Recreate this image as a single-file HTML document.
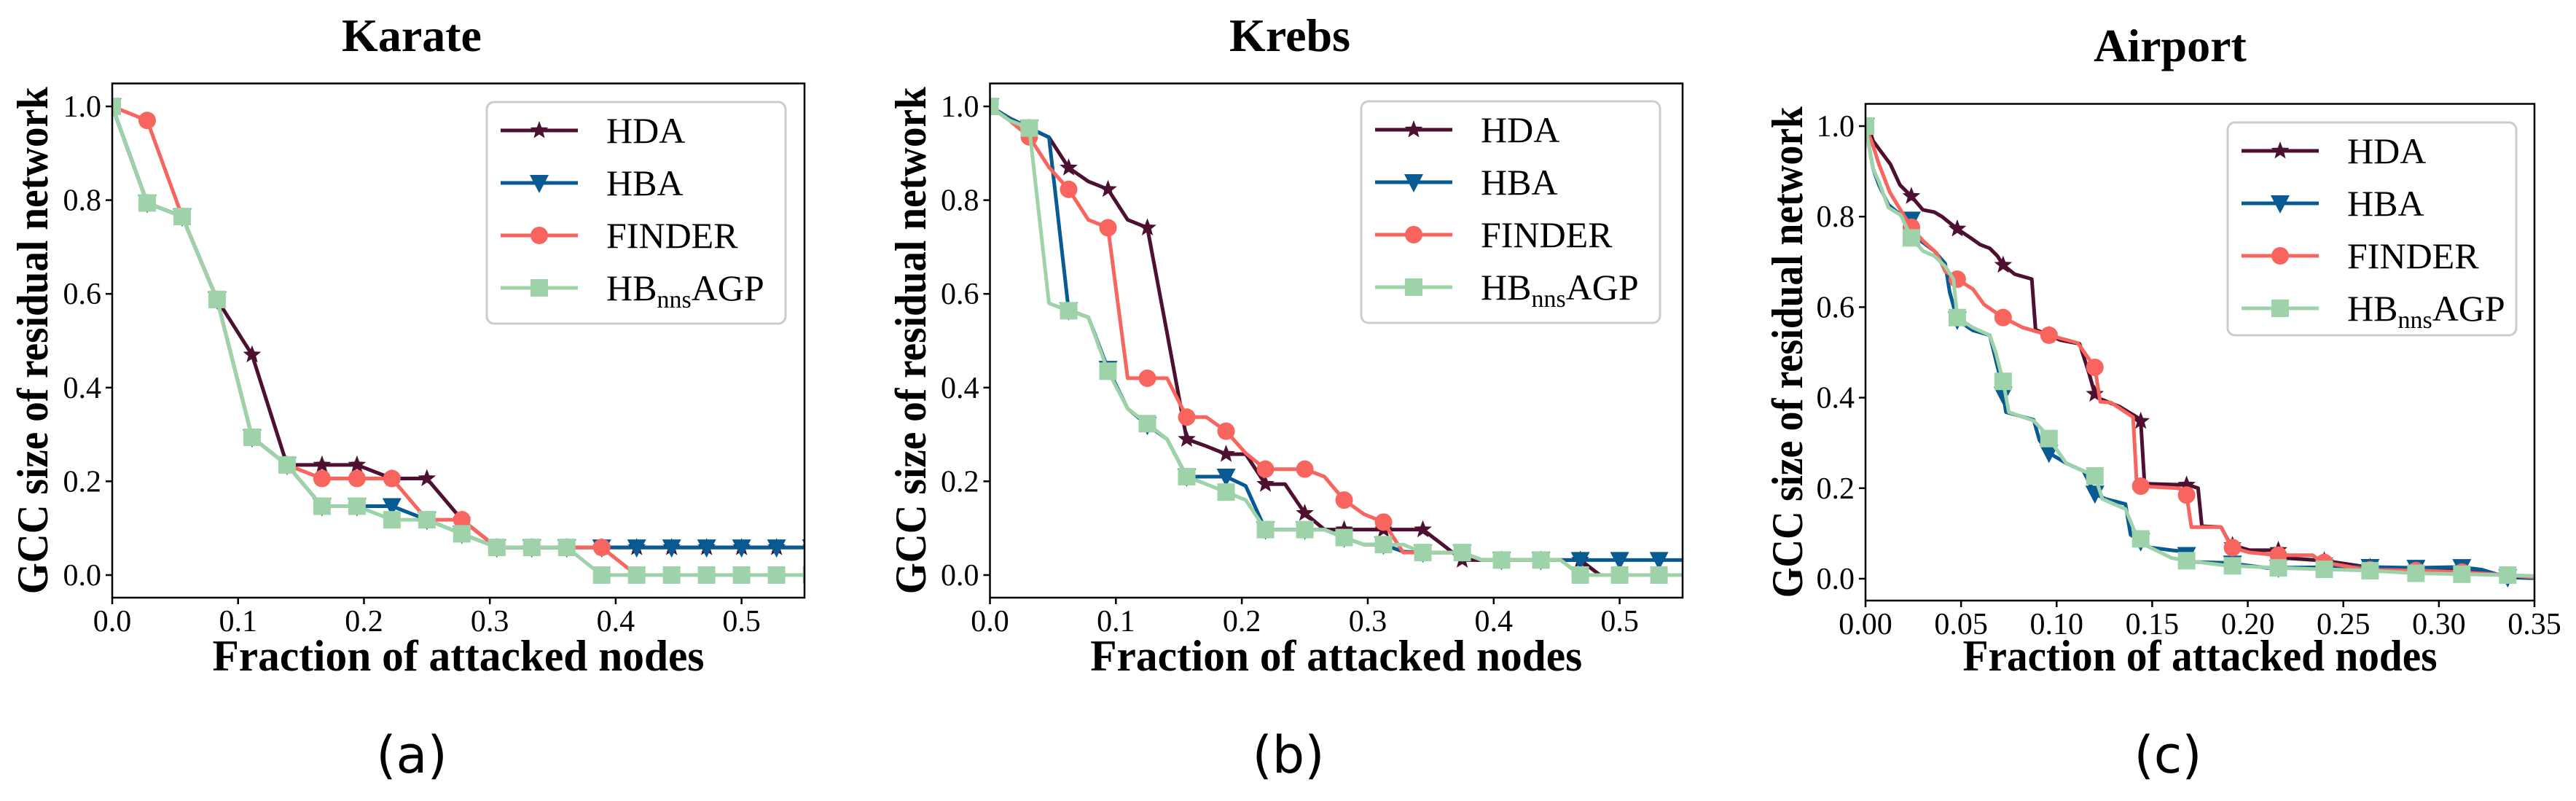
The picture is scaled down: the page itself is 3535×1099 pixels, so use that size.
<!DOCTYPE html>
<html><head><meta charset="utf-8"><style>
html,body{margin:0;padding:0;background:#fff;}
svg{display:block;}
</style></head><body>
<svg id="fig" width="3535" height="1099" viewBox="0 0 3535 1099" xmlns="http://www.w3.org/2000/svg"></svg>
<script>
// ---------- Data ----------
const seriesNames = ["HDA","HBA","FINDER","HBnnsAGP"];
const colors = ["#4d1030","#075a92","#f8645e","#9ed3aa"];
const yTicks = [0.0,0.2,0.4,0.6,0.8,1.0];
const yTickLabels = ["0.0","0.2","0.4","0.6","0.8","1.0"];

// Karate: step 1/36
const karateStep = 1/36;
const karateHDA = [1,0.794,0.765,0.588,0.47,0.235,0.235,0.235,0.206,0.206,0.118,0.059,0.059,0.059,0.059,0.059,0.059,0.059,0.059,0.059,0.059];
const karateHBA = [1,0.794,0.765,0.588,0.294,0.235,0.147,0.147,0.147,0.118,0.088,0.059,0.059,0.059,0.059,0.059,0.059,0.059,0.059,0.059,0.059];
const karateFINDER = [1,0.97,0.765,0.588,0.294,0.235,0.206,0.206,0.206,0.118,0.118,0.059,0.059,0.059,0.059,0,0,0,0,0,0];
const karateHBnns = [1,0.794,0.765,0.588,0.294,0.235,0.147,0.147,0.118,0.118,0.088,0.059,0.059,0.059,0,0,0,0,0,0,0];
const karateXTicks = [0,0.1,0.2,0.3,0.4,0.5];
const karateXTickLabels = ["0.0","0.1","0.2","0.3","0.4","0.5"];

// Krebs: step 1/64, markers every 2
const krebsStep = 1/64;
const krebsHDA = [1,0.975,0.954,0.934,0.869,0.84,0.823,0.758,0.741,0.517,0.29,0.275,0.258,0.258,0.194,0.194,0.132,0.097,0.097,0.097,0.097,0.097,0.097,0.065,0.032,0.032,0.032,0.032,0.032,0.032,0.032,0,0,0,0,0,0];
const krebsHBA = [1,0.975,0.954,0.934,0.565,0.55,0.44,0.355,0.32,0.29,0.21,0.21,0.21,0.19,0.097,0.097,0.097,0.097,0.08,0.065,0.065,0.05,0.048,0.048,0.048,0.032,0.032,0.032,0.032,0.032,0.032,0.032,0.032,0.032,0.032,0.032,0.032];
const krebsFINDER = [1,0.97,0.935,0.87,0.823,0.758,0.741,0.42,0.42,0.42,0.337,0.337,0.307,0.26,0.226,0.226,0.226,0.21,0.16,0.13,0.113,0.048,0.048,0.048,0.048,0.032,0.032,0.032,0.032,0.032,0,0,0,0,0,0,0];
const krebsHBnns = [1,0.97,0.954,0.58,0.564,0.55,0.435,0.355,0.323,0.29,0.21,0.194,0.177,0.16,0.097,0.097,0.097,0.097,0.08,0.065,0.065,0.065,0.048,0.048,0.048,0.032,0.032,0.032,0.032,0.032,0,0,0,0,0,0,0];
const krebsXTicks = [0,0.1,0.2,0.3,0.4,0.5];
const krebsXTickLabels = ["0.0","0.1","0.2","0.3","0.4","0.5"];

// Airport: explicit vertices
const airHDAx = [0,0.003,0.004,0.007,0.013,0.018,0.024,0.030,0.036,0.040,0.048,0.055,0.060,0.065,0.069,0.072,0.078,0.087,0.089,0.096,0.102,0.112,0.117,0.120,0.123,0.133,0.142,0.144,0.146,0.169,0.174,0.176,0.186,0.191,0.201,0.216,0.218,0.24,0.262,0.311,0.336,0.35];
const airHDAy = [1.0,0.98,0.967,0.95,0.916,0.87,0.845,0.815,0.81,0.80,0.773,0.753,0.738,0.73,0.713,0.693,0.673,0.662,0.55,0.538,0.527,0.519,0.453,0.408,0.397,0.38,0.357,0.348,0.21,0.207,0.2,0.116,0.114,0.075,0.063,0.063,0.046,0.04,0.026,0.018,0.007,0.003];
const airHBAx = [0,0.004,0.007,0.012,0.02,0.025,0.0287,0.036,0.0417,0.044,0.048,0.056,0.065,0.0706,0.0735,0.088,0.091,0.096,0.105,0.114,0.12,0.1257,0.136,0.1387,0.149,0.160,0.166,0.172,0.189,0.21,0.262,0.288,0.311,0.3225,0.3355,0.35];
const airHBAy = [1,0.905,0.87,0.826,0.798,0.792,0.747,0.724,0.696,0.634,0.572,0.549,0.538,0.442,0.368,0.351,0.306,0.278,0.255,0.238,0.188,0.176,0.165,0.097,0.069,0.063,0.06,0.037,0.035,0.024,0.026,0.024,0.026,0.02,0.003,0.001];
const airFINDERx = [0,0.004,0.007,0.0127,0.02,0.025,0.030,0.0373,0.0417,0.049,0.0562,0.062,0.072,0.0822,0.096,0.111,0.12,0.1228,0.1285,0.140,0.142,0.163,0.1676,0.1705,0.186,0.1917,0.201,0.2154,0.234,0.2386,0.262,0.288,0.311,0.3356,0.35];
const airFINDERy = [1,0.956,0.916,0.854,0.803,0.77,0.747,0.719,0.679,0.659,0.64,0.606,0.577,0.555,0.538,0.521,0.467,0.391,0.389,0.357,0.205,0.2,0.196,0.114,0.114,0.069,0.058,0.052,0.052,0.037,0.02,0.018,0.015,0.008,0.003];
const airHBnnsx = [0,0.004,0.007,0.012,0.0185,0.024,0.0301,0.036,0.0417,0.046,0.048,0.056,0.065,0.0683,0.072,0.075,0.088,0.0938,0.105,0.114,0.12,0.124,0.136,0.1416,0.149,0.160,0.1676,0.189,0.2154,0.2386,0.262,0.288,0.311,0.3355,0.35];
const airHBnnsy = [1,0.905,0.877,0.82,0.803,0.753,0.724,0.713,0.69,0.662,0.577,0.555,0.538,0.498,0.436,0.368,0.349,0.323,0.255,0.238,0.227,0.176,0.154,0.097,0.069,0.046,0.04,0.029,0.024,0.021,0.018,0.012,0.01,0.008,0.006];
const airMarkStep = 0.024;
const airXTicks = [0,0.05,0.1,0.15,0.2,0.25,0.3,0.35];
const airXTickLabels = ["0.00","0.05","0.10","0.15","0.20","0.25","0.30","0.35"];

// ---------- Drawing ----------
const NS = "http://www.w3.org/2000/svg";
const svg = document.getElementById("fig");
function mk(tag, attrs, parent){
  const e = document.createElementNS(NS, tag);
  for (const k in attrs) e.setAttribute(k, attrs[k]);
  (parent||svg).appendChild(e);
  return e;
}
function marker(g, type, cx, cy, color){
  let e;
  if (type===0){ // star
    const pts=[];
    for(let i=0;i<10;i++){const r=i%2?5.5:13;const a=-Math.PI/2+i*Math.PI/5;pts.push((cx+r*Math.cos(a)).toFixed(1)+","+(cy+r*Math.sin(a)).toFixed(1));}
    e = mk("polygon",{points:pts.join(" "),fill:color},g);
  } else if (type===1){
    e = mk("polygon",{points:(cx-13)+","+(cy-11)+" "+(cx+13)+","+(cy-11)+" "+cx+","+(cy+14),fill:color},g);
  } else if (type===2){
    e = mk("circle",{cx:cx,cy:cy,r:12,fill:color},g);
  } else {
    e = mk("rect",{x:cx-12,y:cy-12,width:24,height:24,fill:color},g);
  }
  
  
}
function interp(xs, ys, x){
  for(let i=1;i<xs.length;i++){ if(x<=xs[i]){const t=(x-xs[i-1])/(xs[i]-xs[i-1]||1);return ys[i-1]+t*(ys[i]-ys[i-1]);} }
  return ys[ys.length-1];
}

function panel(p){
  const g = mk("g",{});
  
  
  const X = v => p.L + (v - 0) / p.xmax * (p.R - p.L);
  const Y = v => p.y0 - v * (p.y0 - p.y1);
  const cid = p.id+"-clip";
  const cp = mk("clipPath",{id:cid},g);
  mk("rect",{x:p.L,y:p.T,width:p.R-p.L,height:p.B-p.T},cp);

  // title
  const t = mk("text",{x:p.tx,y:p.ty,"text-anchor":"middle","font-family":"Liberation Serif, serif","font-weight":"bold","font-size":64,fill:"#000"},g);
  t.textContent = p.title;
  
  

  // series
  const sg = mk("g",{"clip-path":"url(#"+cid+")"},g);
  
  
  p.series.forEach((s, si)=>{
    const sgi = mk("g",{},sg);
    
    
    const pts = s.xs.map((x,i)=>X(x).toFixed(1)+","+Y(s.ys[i]).toFixed(1)).join(" ");
    const pl = mk("polyline",{points:pts,fill:"none",stroke:colors[si],"stroke-width":5,"stroke-linejoin":"round"},sgi);
    
    
    s.marks.forEach(m=>marker(sgi, si, X(m[0]), Y(m[1]), colors[si]));
  });

  // axes box
  const box = mk("rect",{x:p.L,y:p.T,width:p.R-p.L,height:p.B-p.T,fill:"none",stroke:"#000","stroke-width":2.5},g);
  
  

  // y ticks
  yTicks.forEach((v,i)=>{
    const y = Y(v);
    const tk = mk("line",{x1:p.L-9,x2:p.L,y1:y,y2:y,stroke:"#000","stroke-width":2.5},g);
    
    
    const tl = mk("text",{x:p.L-15,y:y+14,"text-anchor":"end","font-family":"Liberation Serif, serif","font-size":42,fill:"#000"},g);
    tl.textContent = yTickLabels[i];
    
    
  });
  // x ticks
  p.xTicks.forEach((v,i)=>{
    const x = X(v);
    const tk = mk("line",{x1:x,x2:x,y1:p.B,y2:p.B+9,stroke:"#000","stroke-width":2.5},g);
    
    
    const tl = mk("text",{x:x,y:p.xty,"text-anchor":"middle","font-family":"Liberation Serif, serif","font-size":42,fill:"#000"},g);
    tl.textContent = p.xTickLabels[i];
    
    
  });
  // axis titles
  const xl = mk("text",{x:(p.L+p.R)/2,y:920,"text-anchor":"middle","font-family":"Liberation Serif, serif","font-weight":"bold","font-size":60,textLength:p.xlw,lengthAdjust:"spacingAndGlyphs",fill:"#000"},g);
  xl.textContent = "Fraction of attacked nodes";
  
  
  const cy = (p.T+p.B)/2;
  const yl = mk("text",{x:0,y:0,transform:"translate("+(p.ylx+20)+","+cy+") rotate(-90)","text-anchor":"middle","font-family":"Liberation Serif, serif","font-weight":"bold","font-size":60,textLength:p.ylw,lengthAdjust:"spacingAndGlyphs",fill:"#000"},g);
  yl.textContent = "GCC size of residual network";
  
  

  // legend
  const lg = mk("g",{},g);
  
  
  const lb = mk("rect",{x:p.lx,y:p.ly,width:p.lw,height:p.lh,rx:10,fill:"#fff",stroke:"#cccccc","stroke-width":3},lg);
  
  
  seriesNames.forEach((n,i)=>{
    const ry = p.ly + 39 + i*72;
    const le = mk("g",{},lg);
    
    
    mk("line",{x1:p.lx+19,x2:p.lx+125,y1:ry,y2:ry,stroke:colors[i],"stroke-width":5},le);
    marker(le, i, p.lx+72, ry, colors[i]);
    const tx = mk("text",{x:p.lx+164,y:ry+17,"font-family":"Liberation Serif, serif","font-size":50,fill:"#000"},le);
    if (i===3){
      tx.appendChild(document.createTextNode("HB"));
      const sub = mk("tspan",{"font-size":34,dy:10},tx); sub.textContent="nns";
      const rest = mk("tspan",{dy:-10},tx); rest.textContent="AGP";
    } else tx.textContent = n;
    
    
  });

  // caption
  const cap = mk("text",{x:p.capx,y:1060,"text-anchor":"middle","font-family":"DejaVu Sans, sans-serif","font-size":70,fill:"#000"},g);
  cap.textContent = p.cap;
  
  
}

function gridSeries(arr, step, every){
  const xs = arr.map((v,i)=>i*step);
  const marks = [];
  arr.forEach((v,i)=>{ if(i%every===0) marks.push([xs[i],v]); });
  return {xs:xs, ys:arr, marks:marks};
}
function freeSeries(xs, ys){
  const marks=[];
  for(let k=0;k*airMarkStep<=0.337;k++){ const x=k*airMarkStep; marks.push([x, interp(xs,ys,x)]); }
  return {xs:xs, ys:ys, marks:marks};
}

panel({id:"karate",title:"Karate",tx:565,ty:70,L:154,R:1104,T:114.5,B:820,y0:789,y1:146,xmax:0.55,
  xTicks:karateXTicks,xTickLabels:karateXTickLabels,xty:866,xlw:675,ylx:45,ylw:696,
  lx:668,ly:140,lw:410,lh:304,cap:"(a)",capx:565,
  series:[karateHDA,karateHBA,karateFINDER,karateHBnns].map(a=>gridSeries(a,karateStep,1))});
panel({id:"krebs",title:"Krebs",tx:1770,ty:70,L:1358.5,R:2309,T:114.5,B:820,y0:789,y1:146,xmax:0.55,
  xTicks:krebsXTicks,xTickLabels:krebsXTickLabels,xty:866,xlw:675,ylx:1250,ylw:696,
  lx:1868,ly:139,lw:410,lh:304,cap:"(b)",capx:1768,
  series:[krebsHDA,krebsHBA,krebsFINDER,krebsHBnns].map(a=>gridSeries(a,krebsStep,2))});
panel({id:"airport",title:"Airport",tx:2978,ty:84,L:2560,R:3478,T:142.5,B:824,y0:794,y1:173,xmax:0.35,
  xTicks:airXTicks,xTickLabels:airXTickLabels,xty:870,xlw:651,ylx:2453,ylw:674,
  lx:3057,ly:168,lw:396,lh:292,cap:"(c)",capx:2975,
  series:[freeSeries(airHDAx,airHDAy),freeSeries(airHBAx,airHBAy),freeSeries(airFINDERx,airFINDERy),freeSeries(airHBnnsx,airHBnnsy)]});
</script>
</body></html>
